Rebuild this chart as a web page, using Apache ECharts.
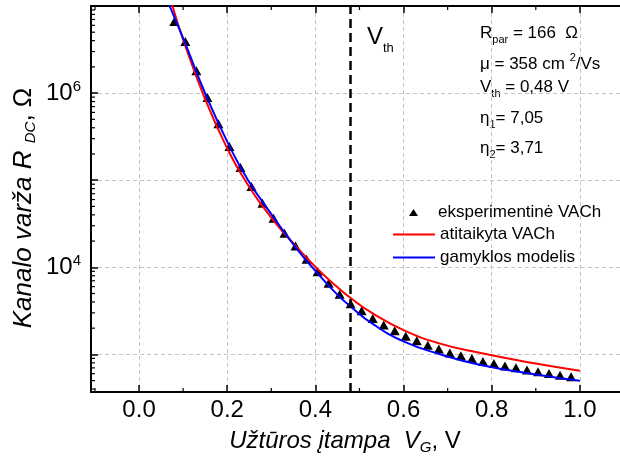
<!DOCTYPE html>
<html><head><meta charset="utf-8">
<script src="https://cdn.jsdelivr.net/npm/echarts@6/dist/echarts.min.js"></script>
<style>html,body{margin:0;padding:0;background:#fff}#c{width:620px;height:469px}</style>
</head><body><div id="c"></div>
<script>
// ---- data ----
const X_MIN = -0.109, X_MAX = 1.091;
const Y_MIN = 370, Y_MAX = 1e7;
const X_TICKS = [0, 0.2, 0.4, 0.6, 0.8, 1.0];
const X_MINOR_TICKS = [-0.1, 0.1, 0.3, 0.5, 0.7, 0.9];
const Y_LABELS = [1e4, 1e6];
const Y_MINOR_TICKS = [400, 500, 600, 700, 800, 900,
  2000, 3000, 4000, 5000, 6000, 7000, 8000, 9000,
  2e4, 3e4, 4e4, 5e4, 6e4, 7e4, 8e4, 9e4,
  2e5, 3e5, 4e5, 5e5, 6e5, 7e5, 8e5, 9e5,
  2e6, 3e6, 4e6, 5e6, 6e6, 7e6, 8e6, 9e6];
const VTH = 0.48;

const VG_EXP = [0.08, 0.105, 0.13, 0.155, 0.18, 0.205, 0.23, 0.255, 0.28, 0.305,
  0.33, 0.355, 0.38, 0.405, 0.43, 0.455, 0.48, 0.505, 0.53, 0.555,
  0.58, 0.605, 0.63, 0.655, 0.68, 0.705, 0.73, 0.755, 0.78, 0.805,
  0.83, 0.855, 0.88, 0.905, 0.93, 0.955, 0.98];
const R_EXP = [6.65e6, 3.92e6, 1.80e6, 8.9e5, 4.44e5, 2.43e5, 1.40e5, 8.44e4, 5.44e4, 3.66e4,
  2.46e4, 1.76e4, 1.24e4, 8.9e3, 6.55e3, 4.9e3, 3.82e3, 3.17e3, 2.59e3, 2.17e3,
  1.87e3, 1.62e3, 1.43e3, 1.27e3, 1.15e3, 1.04e3, 963, 899, 831, 788,
  734, 702, 661, 631, 605, 578, 553];

const VG_FIT = [0.075, 0.1, 0.149, 0.198, 0.24, 0.304, 0.357, 0.402, 0.447, 0.48, 0.53, 0.6, 0.681, 0.772, 0.9, 1.0];
const R_FIT = [1.035e7, 4.10e6, 8.77e5, 2.43e5, 1.007e5, 3.50e4, 1.726e4, 9886, 6081, 4436, 2958, 1901, 1337, 1042, 785, 647];

const VG_MODEL = [0.068, 0.1, 0.153, 0.2055, 0.247, 0.304, 0.357, 0.402, 0.447, 0.481, 0.53, 0.6, 0.681, 0.772, 0.9, 1.0];
const R_MODEL = [1.035e7, 4.27e6, 9.14e5, 2.43e5, 1.007e5, 3.82e4, 1.652e4, 8.89e3, 5.02e3, 3.51e3, 2.24e3, 1.413e3, 1.009e3, 762, 589, 498];

const NAME_EXP = 'eksperimentinė VACh';
const NAME_FIT = 'atitaikyta VACh';
const NAME_MODEL = 'gamyklos modelis';

// ---- chart ----
const FF = '"Liberation Sans", Arial, sans-serif';
const zip = (xs, ys) => xs.map((x, i) => [x, ys[i]]);
const chart = echarts.init(document.getElementById('c'), null, {renderer: 'canvas'});

const tok = (size, extra) => Object.assign({fontSize: size, fontFamily: FF, color: '#000', verticalAlign: 'middle'}, extra || {});

const option = {
  animation: false,
  backgroundColor: '#fff',
  grid: {left: 91, top: 6, width: 530, height: 386, containLabel: false},
  xAxis: [{
    type: 'value', position: 'bottom', min: X_MIN, max: X_MAX,
    axisLine: {show: true, onZero: false, lineStyle: {color: '#000', width: 2}},
    axisTick: {show: true, inside: true, length: 7, customValues: X_TICKS, lineStyle: {color: '#000', width: 1.5}},
    axisLabel: {show: true, customValues: X_TICKS, formatter: v => v.toFixed(1), fontSize: 24, fontFamily: FF, color: '#000', margin: 6},
    splitLine: {show: true, lineStyle: {color: '#c4c4c4', width: 1, type: [4, 3]}}
  }, {
    type: 'value', position: 'top', min: X_MIN, max: X_MAX,
    axisLine: {show: true, onZero: false, lineStyle: {color: '#000', width: 2}},
    axisTick: {show: true, inside: true, length: 7, customValues: X_TICKS, lineStyle: {color: '#000', width: 1.5}},
    axisLabel: {show: false},
    splitLine: {show: false}
  }],
  yAxis: [{
    type: 'log', logBase: 10, min: Y_MIN, max: Y_MAX, position: 'left',
    axisLine: {show: true, onZero: false, lineStyle: {color: '#000', width: 2}},
    axisTick: {show: true, inside: true, length: 7, lineStyle: {color: '#000', width: 1.5}},
    axisLabel: {
      show: true, margin: 10,
      formatter: v => {
        const e = Math.log10(v), r = Math.round(e);
        if (Math.abs(e - r) < 1e-6 && Y_LABELS.some(l => Math.round(Math.log10(l)) === r)) return '{b|10}{e|' + r + '}';
        return '';
      },
      rich: {b: tok(24), e: tok(15, {padding: [0, 0, 13, 0]})}
    },
    splitLine: {show: true, lineStyle: {color: '#c4c4c4', width: 1, type: [4, 3]}},
    minorTick: {show: false}
  }],
  legend: [{
    data: [NAME_EXP], left: 409, top: 204, padding: 0, itemWidth: 9, itemHeight: 7,
    selectedMode: false, itemStyle: {opacity: 1},
    textStyle: {fontSize: 17, fontFamily: FF, color: '#000', padding: [0, 0, 0, 15]}
  }, {
    data: [NAME_FIT, NAME_MODEL], orient: 'vertical', left: 392, top: 226, padding: 0,
    itemWidth: 42, itemHeight: 14, itemGap: 6, selectedMode: false,
    itemStyle: {color: 'rgba(0,0,0,0)', borderWidth: 0, opacity: 0},
    textStyle: {fontSize: 17, fontFamily: FF, color: '#000', lineHeight: 17}
  }],
  graphic: [
    {type: 'text', x: 480, y: 33, style: {text: 'R{s|par} = 166  Ω', align: 'left', verticalAlign: 'middle', fontSize: 17, fontFamily: FF, fill: '#000',
      rich: {s: tok(11, {padding: [14, 0, 0, 0]})}}},
    {type: 'text', x: 480, y: 64, style: {text: 'μ = 358 cm {p|2}/Vs', align: 'left', verticalAlign: 'middle', fontSize: 17, fontFamily: FF, fill: '#000',
      rich: {p: tok(11, {padding: [0, 0, 12, 0]})}}},
    {type: 'text', x: 480, y: 87, style: {text: 'V{s|th} = 0,48 V', align: 'left', verticalAlign: 'middle', fontSize: 17, fontFamily: FF, fill: '#000',
      rich: {s: tok(11, {padding: [14, 0, 0, 0]})}}},
    {type: 'text', x: 480, y: 118, style: {text: 'η{s|1}= 7,05', align: 'left', verticalAlign: 'middle', fontSize: 17, fontFamily: FF, fill: '#000',
      rich: {s: tok(11, {padding: [14, 0, 0, 0]})}}},
    {type: 'text', x: 480, y: 148, style: {text: 'η{s|2}= 3,71', align: 'left', verticalAlign: 'middle', fontSize: 17, fontFamily: FF, fill: '#000',
      rich: {s: tok(11, {padding: [14, 0, 0, 0]})}}},
    {type: 'text', x: 367, y: 37, style: {text: 'V{s|th}', align: 'left', verticalAlign: 'middle', fontSize: 24, fontFamily: FF, fill: '#000',
      rich: {s: tok(13, {padding: [22, 0, 0, 0]})}}},
    {type: 'text', x: 345, y: 441, style: {text: '{i|Užtūros įtampa  V}{s|G}{n|, V}', align: 'center', verticalAlign: 'middle',
      rich: {i: tok(24, {fontStyle: 'italic'}), s: tok(15, {fontStyle: 'italic', padding: [14, 0, 0, 0]}), n: tok(24)}}},
    {type: 'text', x: 24, y: 208, rotation: Math.PI / 2, style: {text: '{i|Kanalo varža R }{s|DC}{n|, Ω}', align: 'center', verticalAlign: 'middle',
      rich: {i: tok(26, {fontStyle: 'italic'}), s: tok(15, {fontStyle: 'italic', padding: [14, 0, 0, 0]}), n: tok(26)}}}
  ],
  series: [
    {
      name: NAME_EXP, type: 'scatter', symbol: 'triangle', symbolSize: [10, 9],
      itemStyle: {color: '#000', opacity: 1}, data: zip(VG_EXP, R_EXP), z: 2
    },
    {
      name: NAME_FIT, type: 'line', showSymbol: false, symbol: 'none', smooth: 0.5,
      lineStyle: {color: '#ff0000', width: 2}, itemStyle: {color: '#ff0000'}, data: zip(VG_FIT, R_FIT), z: 3,
      markLine: {
        silent: true, symbol: 'none', label: {show: false},
        lineStyle: {color: '#000', width: 2.5, type: [9, 5]},
        data: [{xAxis: VTH}]
      }
    },
    {
      name: NAME_MODEL, type: 'line', showSymbol: false, symbol: 'none', smooth: 0.5,
      lineStyle: {color: '#0000ff', width: 2}, itemStyle: {color: '#0000ff'}, data: zip(VG_MODEL, R_MODEL), z: 3
    },
    {
      name: 'yMinorTicks', type: 'custom', silent: true, clip: false, z: 5,
      data: Y_MINOR_TICKS.map(v => [X_MIN, v]),
      renderItem: (params, api) => {
        const p = api.coord([api.value(0), api.value(1)]);
        return {type: 'line', shape: {x1: p[0], y1: p[1], x2: p[0] + 4, y2: p[1]}, style: {stroke: '#000', lineWidth: 1.2}};
      }
    },
    {
      name: 'xMinorTicks', type: 'custom', silent: true, clip: false, z: 5,
      data: X_MINOR_TICKS.map(v => [v, Y_MIN]),
      renderItem: (params, api) => {
        const p = api.coord([api.value(0), api.value(1)]);
        const top = params.coordSys.y;
        return {type: 'group', children: [
          {type: 'line', shape: {x1: p[0], y1: p[1], x2: p[0], y2: p[1] - 4}, style: {stroke: '#000', lineWidth: 1.2}},
          {type: 'line', shape: {x1: p[0], y1: top, x2: p[0], y2: top + 4}, style: {stroke: '#000', lineWidth: 1.2}}
        ]};
      }
    }
  ]
};
chart.setOption(option);
</script>
</body></html>
